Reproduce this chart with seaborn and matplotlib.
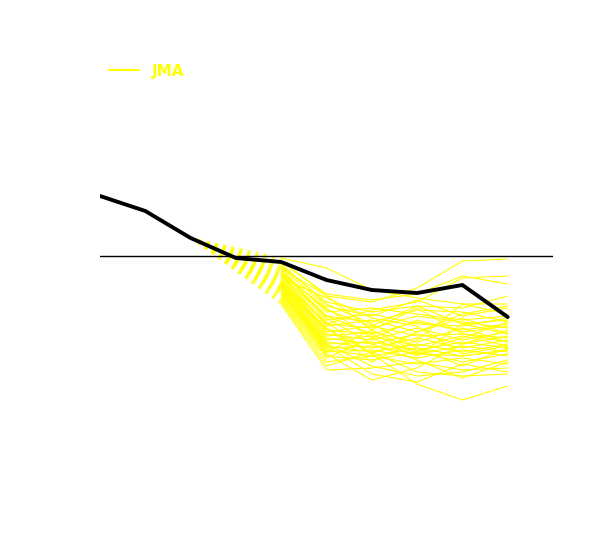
import numpy as np
import pandas as pd
import seaborn as sns
import matplotlib.pyplot as plt
from matplotlib.lines import Line2D

# lead times (months) and the analysed index
lead = [0, 1, 2, 3, 4, 5, 6, 7, 8, 9]
obs = [3.0, 2.25, 0.9, -0.1, -0.3, -1.2, -1.7, -1.85, -1.45, -3.05]

# forecast start point (dashed link) and ensemble members at leads 4..9
start_lead = 2
member_lead = [4, 5, 6, 7, 8, 9]
members = [
    [-0.1, -0.6, -1.7, -2.1, -2.4, -2.4],
    [-0.2, -2.0, -2.3, -1.6, -0.25, -0.15],
    [-0.3, -1.9, -2.2, -1.9, -1.0, -1.4],
    [-0.5, -2.3, -2.8, -2.5, -2.6, -2.0],
    [-0.6, -2.5, -3.0, -2.2, -3.0, -2.6],
    [-0.7, -2.8, -2.6, -2.9, -3.2, -3.0],
    [-0.8, -3.0, -3.3, -2.7, -2.8, -3.3],
    [-0.9, -3.2, -2.9, -3.4, -3.5, -3.1],
    [-1.0, -3.4, -3.6, -3.0, -3.3, -3.6],
    [-1.0, -3.5, -3.2, -3.8, -3.1, -3.9],
    [-1.1, -3.7, -3.9, -3.3, -3.7, -3.4],
    [-1.2, -3.8, -3.5, -4.0, -3.9, -4.1],
    [-1.2, -3.9, -4.2, -3.6, -4.2, -3.8],
    [-1.3, -4.0, -3.8, -4.3, -3.6, -4.3],
    [-1.4, -4.1, -4.4, -3.9, -4.4, -4.0],
    [-1.4, -4.2, -4.0, -4.5, -4.0, -4.5],
    [-1.5, -4.3, -4.6, -4.1, -4.6, -4.2],
    [-1.5, -4.4, -4.3, -4.7, -4.3, -4.6],
    [-1.6, -4.5, -4.8, -4.4, -4.8, -4.4],
    [-1.7, -4.6, -4.5, -4.9, -4.5, -4.8],
    [-1.8, -4.7, -5.0, -4.6, -5.0, -4.7],
    [-1.9, -4.8, -4.7, -5.1, -4.7, -5.0],
    [-2.0, -5.0, -5.2, -4.8, -5.3, -4.9],
    [-2.2, -5.3, -5.0, -5.4, -5.1, -5.4],
    [-2.4, -5.7, -5.6, -5.3, -5.7, -5.6],
    [-1.1, -2.1, -3.1, -3.5, -4.9, -4.5],
    [-0.9, -2.6, -4.1, -5.0, -3.4, -3.2],
    [-1.3, -3.3, -4.9, -6.4, -7.2, -6.5],
    [-1.6, -3.6, -5.3, -4.2, -2.4, -2.9],
    [-0.4, -2.4, -3.4, -4.6, -5.5, -4.6],
    [-1.8, -4.9, -6.2, -5.6, -4.4, -3.7],
    [-2.1, -5.1, -4.1, -3.2, -3.8, -3.5],
    [-1.7, -4.4, -5.5, -6.0, -5.8, -5.2],
    [-0.7, -3.1, -4.4, -5.2, -6.1, -5.3],
    [-1.2, -3.4, -2.7, -2.3, -1.1, -1.0],
    [-1.5, -4.8, -3.7, -2.6, -3.9, -4.3],
    [-1.9, -4.5, -5.9, -6.3, -5.4, -5.8],
    [-0.6, -2.0, -3.7, -4.8, -4.1, -3.3],
    [-1.4, -3.6, -4.9, -3.8, -2.9, -2.5],
    [-2.3, -5.5, -4.8, -5.8, -6.0, -5.9],
    [-1.0, -3.0, -3.9, -4.9, -5.0, -4.7],
    [-0.8, -2.7, -3.5, -2.5, -3.4, -3.9],
]

rows = []
link_rows = []
for i, m in enumerate(members):
    for (x, v) in zip(member_lead, m):
        rows.append({'member': i, 'lead': x, 'value': v})
    link_rows.append({'member': i, 'lead': start_lead, 'value': obs[start_lead]})
    link_rows.append({'member': i, 'lead': member_lead[0], 'value': m[0]})
ens_df = pd.DataFrame(rows)
link_df = pd.DataFrame(link_rows)
obs_df = pd.DataFrame({'lead': lead, 'value': obs})

sns.set_style('white')
fig = plt.figure(figsize=(6, 5.4), dpi=100)
ax = fig.add_axes([100/600, 40/540, 453/600, 460/540])

sns.lineplot(data=link_df, x='lead', y='value', units='member', estimator=None,
             color='#FFFF00', lw=0.8, linestyle=(0, (3, 4.5)), ax=ax)
sns.lineplot(data=ens_df, x='lead', y='value', units='member', estimator=None,
             color='#FFFF00', lw=0.8, ax=ax)
ax.axhline(0, color='black', lw=1)
sns.lineplot(data=obs_df, x='lead', y='value', color='black', lw=2.8, ax=ax)

ax.set_xlim(0, 10)
ax.set_ylim(-12.2, 10.8)
ax.axis('off')

handle = Line2D([], [], color='#FFFF00', lw=1.5)
fig.legend([handle], ['JMA'], loc='upper left', bbox_to_anchor=(95/600, 1 - 50/540),
           frameon=False, handlelength=2.0, labelcolor='#FFFF00',
           prop={'weight': 'bold', 'size': 11})

plt.savefig('out.png', dpi=100)
